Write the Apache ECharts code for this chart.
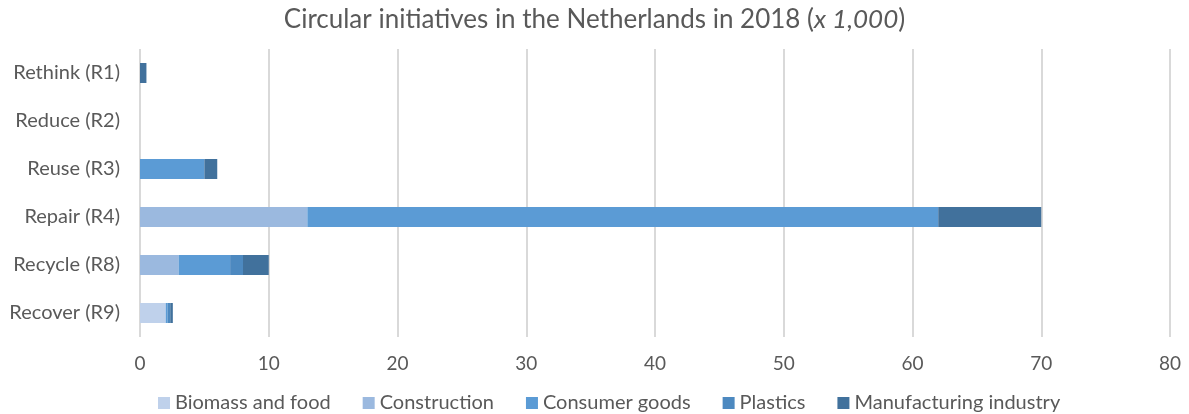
<!DOCTYPE html>
<html><head><meta charset="utf-8">
<script src="https://cdn.jsdelivr.net/npm/echarts@6/dist/echarts.min.js"></script>
<style>html,body{margin:0;padding:0;background:#fff}#c{width:1189px;height:414px}</style>
</head><body><div id="c"></div>
<script>
const categories = ['Rethink (R1)','Reduce (R2)','Reuse (R3)','Repair (R4)','Recycle (R8)','Recover (R9)'];
const seriesNames = ['Biomass and food','Construction','Consumer goods','Plastics','Manufacturing industry'];
const biomass       = [0, 0, 0, 0, 0, 2];
const construction  = [0, 0, 0, 13, 3, 0];
const consumer      = [0, 0, 5, 49, 4, 0.15];
const plastics      = [0, 0, 0, 0, 1, 0.2];
const manufacturing = [0.5, 0, 1, 8, 2, 0.2];
const xTicks = [0,10,20,30,40,50,60,70,80];
const colors = ['#BFD1EB','#9BB9DF','#5B9BD5','#4D89C0','#41719C'];
const values = [biomass, construction, consumer, plastics, manufacturing];
const font = 'Lato';
const chart = echarts.init(document.getElementById('c'));
chart.setOption({
  animation:false,
  title:{text:'{n|Circular initiatives in the Netherlands in 2018 (}{i|x 1,000}{n|)}',left:'center',top:2,
    textStyle:{rich:{n:{fontFamily:font,fontSize:26,fontWeight:'normal',color:'#595959'},i:{fontFamily:font,fontSize:26,fontWeight:'normal',color:'#595959',fontStyle:'italic'}}}},
  grid:{left:140,right:19,top:49,bottom:77,containLabel:false},
  legend:{top:388,left:153,icon:'rect',itemWidth:12,itemHeight:12,itemGap:32,itemTextGap:6,
    textStyle:{fontFamily:font,fontSize:20,color:'#595959'},data:seriesNames},
  xAxis:{type:'value',min:0,max:80,interval:10,
    axisLine:{show:false},axisTick:{show:false},
    axisLabel:{fontFamily:font,fontSize:19,color:'#595959',margin:17,formatter:v=>xTicks.includes(v)?String(v):''},
    splitLine:{lineStyle:{color:'#D9D9D9',width:2}}},
  yAxis:{type:'category',data:categories,inverse:true,
    axisLine:{show:false},axisTick:{show:false},
    axisLabel:{fontFamily:font,fontSize:20,color:'#595959',margin:20}},
  series: seriesNames.map((n,i)=>({name:n,type:'bar',stack:'s',data:values[i],barWidth:20,
    itemStyle:{color:colors[i]}}))
});
</script></body></html>
